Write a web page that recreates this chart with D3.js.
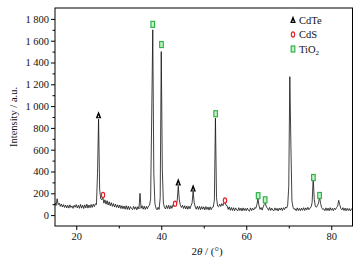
<!DOCTYPE html>
<html><head><meta charset="utf-8">
<script src="https://cdn.jsdelivr.net/npm/d3@7"></script>
<style>body{margin:0;background:#fff}svg{display:block;font-family:"Liberation Serif","Times New Roman",serif}</style>
</head><body><svg id="c" width="363" height="265"></svg>
<script>
// 2θ grid start / step (degrees); intensities
const thetaStart = 15, thetaStep = 0.25;
const intensity = [
 112,88,150,96,110,80,102,74,96,70,92,66,90,64,94,70,84,62,90,72,
 96,66,90,62,98,64,92,60,94,66,100,64,92,68,98,70,100,78,104,96,
 380,880,240,150,140,165,110,140,100,132,92,122,86,114,80,106,74,100,70,94,
 66,92,60,86,58,84,54,86,52,82,50,78,60,50,80,54,76,48,78,56,
 200,62,86,54,82,52,80,58,84,90,150,900,1700,380,110,64,48,72,52,160,
 1500,420,110,72,56,88,60,90,56,86,62,94,80,108,90,130,265,140,90,70,
 90,60,86,56,84,54,82,58,86,110,215,115,74,54,82,52,80,50,78,54,
 76,48,78,52,74,46,76,50,72,74,140,890,160,84,76,100,80,106,86,112,
 118,90,86,52,76,44,70,42,68,40,66,46,40,68,42,64,38,66,42,62,
 40,64,44,36,66,42,62,46,70,62,95,150,85,52,70,46,76,100,110,72,
 66,44,70,42,64,46,40,66,44,62,38,64,46,66,42,68,50,74,64,92,
 260,1270,650,130,72,54,58,40,66,42,62,40,64,44,68,42,66,48,72,50,
 64,74,115,335,145,80,72,88,110,165,105,68,52,58,40,66,42,64,40,68,
 44,62,40,64,50,70,82,135,95,60,48,68,42,64,40,62,42,60,38,58,
 50
];
const theta = intensity.map((_, i) => thetaStart + i * thetaStep);

const xDomain = [15, 85], yDomain = [-100, 1900];
const xMajor = [20, 40, 60, 80], xMinor = [30, 50, 70];
const yMajor = [0, 200, 400, 600, 800, 1000, 1200, 1400, 1600, 1800];
const yMinor = [100, 300, 500, 700, 900, 1100, 1300, 1500, 1700];
const yTickLabels = ["0","200","400","600","800","1 000","1 200","1 400","1 600","1 800"];

// phase markers: [2θ, intensity]
const cdteMarks = [[25.25, 915], [44.0, 300], [47.5, 245]];
const cdsMarks = [[26.3, 185], [43.25, 105], [55.0, 135]];
const tio2Marks = [[38.0, 1750], [40.05, 1565], [52.8, 930], [62.8, 178], [64.45, 140], [75.8, 345], [77.25, 180]];
const legendItems = ["CdTe", "CdS", "TiO2"];

const m = {l: 55, t: 8, r: 10.5, b: 39};
const W = 363, H = 265;
const svg = d3.select("#c");
const x = d3.scaleLinear().domain(xDomain).range([m.l, W - m.r]);
const y = d3.scaleLinear().domain(yDomain).range([H - m.b, m.t]);

// data line
svg.append("path")
  .datum(theta.map((t, i) => [t, intensity[i]]))
  .attr("fill", "none").attr("stroke", "#111").attr("stroke-width", 0.8)
  .attr("stroke-linejoin", "round")
  .attr("d", d3.line().x(d => x(d[0])).y(d => y(d[1])));

// frame
svg.append("rect").attr("x", m.l).attr("y", m.t)
  .attr("width", W - m.r - m.l).attr("height", H - m.b - m.t)
  .attr("fill", "none").attr("stroke", "#000").attr("stroke-width", 1);

// axes
svg.append("g").attr("transform", `translate(0,${H - m.b})`)
  .call(d3.axisBottom(x).tickValues(xMajor).tickSize(4).tickPadding(3).tickFormat(d3.format("d")));
svg.append("g").attr("transform", `translate(0,${H - m.b})`)
  .call(d3.axisBottom(x).tickValues(xMinor).tickSize(2.5).tickFormat(""));
svg.append("g").attr("transform", `translate(${m.l},0)`)
  .call(d3.axisLeft(y).tickValues(yMajor).tickSize(4).tickPadding(2).tickFormat((d, i) => yTickLabels[i]));
svg.append("g").attr("transform", `translate(${m.l},0)`)
  .call(d3.axisLeft(y).tickValues(yMinor).tickSize(2.5).tickFormat(""));
svg.selectAll(".domain").remove();
svg.selectAll(".tick line").attr("stroke", "#000");
svg.selectAll(".tick text").attr("font-size", 10.5).attr("fill", "#111")
  .attr("font-family", "Liberation Serif, serif");

// axis titles
const xt = svg.append("text").attr("x", 207).attr("y", 255).attr("text-anchor", "middle")
  .attr("font-size", 11).attr("fill", "#111");
xt.append("tspan").text("2");
xt.append("tspan").attr("font-style", "italic").text("θ");
xt.append("tspan").text(" / (°)");
svg.append("text").attr("transform", `translate(17,${(m.t + H - m.b) / 2}) rotate(-90)`)
  .attr("text-anchor", "middle").attr("font-size", 10.5).attr("fill", "#111")
  .text("Intensity / a.u.");

// marker shapes
function tri(g, cx, cy) {
  g.append("path").attr("d", `M${cx},${cy - 4.2}L${cx + 2.8},${cy + 3}L${cx - 2.8},${cy + 3}Z`)
    .attr("fill", "#000");
  g.append("path").attr("d", `M${cx},${cy}L${cx + 0.8},${cy + 2}L${cx - 0.8},${cy + 2}Z`)
    .attr("fill", "#fff");
}
function ell(g, cx, cy) {
  g.append("ellipse").attr("cx", cx).attr("cy", cy).attr("rx", 1.6).attr("ry", 2.6)
    .attr("fill", "#fff").attr("stroke", "#e8202a").attr("stroke-width", 1.2);
}
function sq(g, cx, cy) {
  g.append("rect").attr("x", cx - 1.8).attr("y", cy - 3).attr("width", 3.6).attr("height", 6)
    .attr("fill", "#c9f0c9").attr("stroke", "#2db34a").attr("stroke-width", 1.2);
}
const mk = svg.append("g");
cdteMarks.forEach(d => tri(mk, x(d[0]), y(d[1])));
cdsMarks.forEach(d => ell(mk, x(d[0]), y(d[1])));
tio2Marks.forEach(d => sq(mk, x(d[0]), y(d[1])));

// legend
const lg = svg.append("g");
const shapes = [tri, ell, sq];
legendItems.forEach((name, i) => {
  const cy = 20 + i * 14.5;
  shapes[i](lg, 293, cy);
  const t = lg.append("text").attr("x", 299).attr("y", cy + 3.5).attr("font-size", 10.5).attr("fill", "#111");
  if (name === "TiO2") {
    t.append("tspan").text("TiO");
    t.append("tspan").attr("font-size", 7).attr("dy", 2.5).text("2");
  } else t.text(name);
});
</script></body></html>
